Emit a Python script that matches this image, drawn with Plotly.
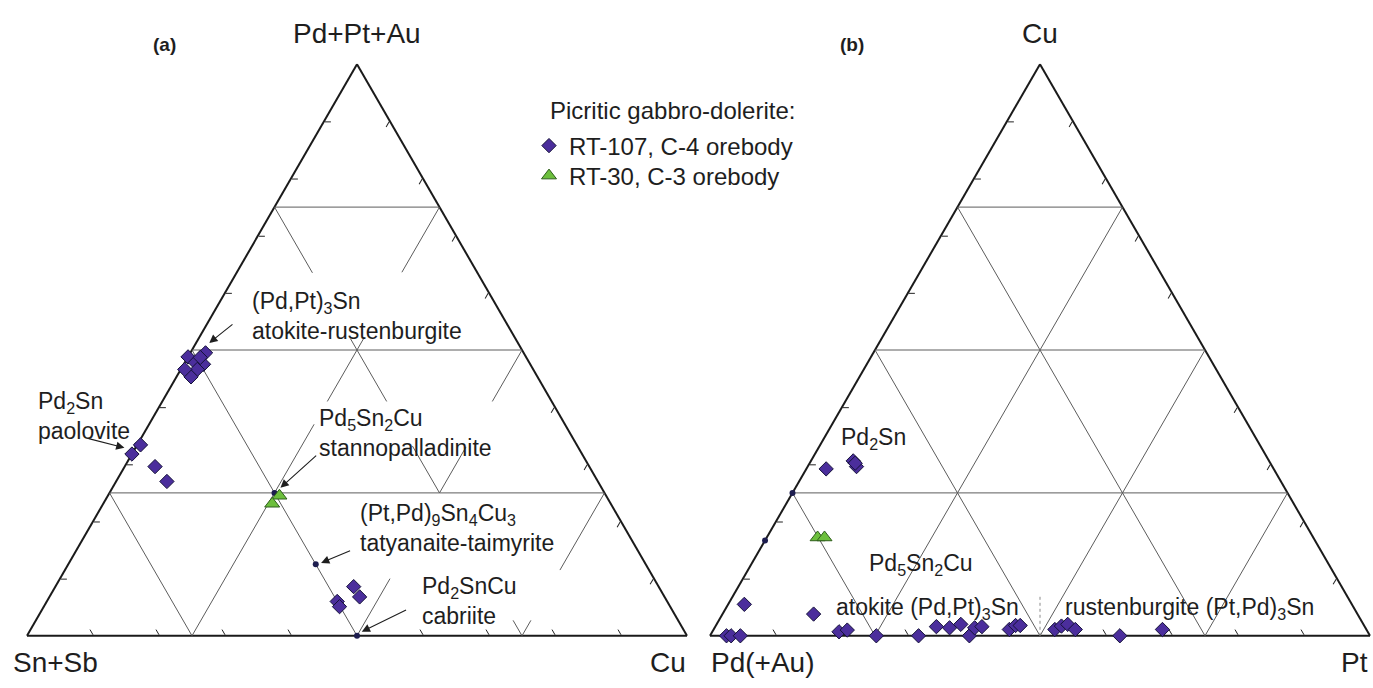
import math
import plotly.graph_objects as go

FW, FH = 1373, 688
FONT = "Liberation Sans, Arial, Helvetica, sans-serif"

# ---------------- data (atomic %) ----------------
# (a)  apex: Pd+Pt+Au, left: Sn+Sb, right: Cu
A_RT107_PGM = [74.4, 73.9, 74.75, 73.75, 73.3, 72.65, 73.3, 74.35, 66.7, 65.9, 64.8, 63.5, 54.3, 53.4, 53.0, 52.55]
A_RT107_SN = [25.6, 25.3, 24.1, 24.75, 25.45, 26.25, 26.4, 24.7, 33.05, 34.1, 32.9, 32.65, 23.1, 23.1, 25.0, 25.05]
A_RT107_CU = [0.0, 0.8, 1.15, 1.5, 1.25, 1.1, 0.3, 0.95, 0.25, 0.0, 2.3, 3.85, 22.6, 23.5, 22.0, 22.4]

A_RT30_PGM = [62.25, 61.55]
A_RT30_SN = [24.75, 25.65]
A_RT30_CU = [13.0, 12.8]

# ideal compositions: Pd2Sn, Pd5Sn2Cu, (Pt,Pd)9Sn4Cu3, Pd2SnCu
A_IDEAL_PGM = [66.67, 62.5, 56.25, 50.0]
A_IDEAL_SN = [33.33, 25.0, 25.0, 25.0]
A_IDEAL_CU = [0.0, 12.5, 18.75, 25.0]

# (b)  apex: Cu, left: Pd(+Au), right: Pt
B_RT107_CU = [29.2, 30.6, 29.6, 30.2, 5.5, 3.8, 0.0, 0.0, 0.0, 0.7, 1.0, 0.0, 0.0, 1.6,
              1.4, 2.0, 0.0, 1.4, 1.6, 1.1, 1.8, 1.8, 1.1, 1.7, 2.0, 1.1, 0.0, 1.1]
B_RT107_PD = [67.8, 63.0, 63.0, 62.9, 92.05, 82.4, 97.5, 96.8, 95.4, 80.1, 78.7, 74.8, 68.4, 64.9,
              63.0, 61.0, 60.7, 59.2, 58.0, 54.1, 52.8, 52.1, 47.2, 45.9, 44.8, 44.1, 37.9, 30.9]
B_RT107_PT = [3.0, 6.4, 7.4, 6.9, 2.45, 13.8, 2.5, 3.2, 4.6, 19.2, 20.3, 25.2, 31.6, 33.5,
              35.6, 37.0, 39.3, 39.4, 40.4, 44.8, 45.4, 46.1, 51.7, 52.4, 53.2, 54.8, 62.1, 68.0]

B_RT30_CU = [17.2, 17.2]
B_RT30_PD = [75.1, 74.05]
B_RT30_PT = [7.7, 8.75]

# ideal: (Pt,Pd)9Sn4Cu3, Pd5Sn2Cu
B_IDEAL_CU = [25.0, 16.67]
B_IDEAL_PD = [75.0, 83.33]
B_IDEAL_PT = [0.0, 0.0]

# dotted divider atokite | rustenburgite
B_DIV_CU = [0.0, 6.9]
B_DIV_PD = [50.0, 46.55]
B_DIV_PT = [50.0, 46.55]

# tick values
A_TICKS_APEX = [55, 60, 65, 70, 80, 85, 90, 95]
A_TICKS_SIDE = [5, 10, 15, 20, 30, 35, 40, 45]
B_TICKS = [10, 20, 30, 40, 60, 70, 80, 90]

# grid segments in diagram fractions: (family, constant, from, to)
A_GRID = [("a", 0.25, 0, 1), ("a", 0.5, 0, 1), ("a", 0.75, 0, 1),
          ("b", 0.75, 0.0, 0.25), ("b", 0.5, 0.0, 0.5),
          ("b", 0.25, 0.635, 0.75), ("b", 0.25, 0.41, 0.52), ("b", 0.25, 0.25, 0.332), ("b", 0.25, 0.0, 0.027),
          ("c", 0.25, 0.0, 0.37), ("c", 0.25, 0.41, 0.52), ("c", 0.25, 0.636, 0.75),
          ("c", 0.5, 0.41, 0.5), ("c", 0.5, 0.25, 0.33), ("c", 0.5, 0.0, 0.1),
          ("c", 0.75, 0.115, 0.25), ("c", 0.75, 0.0, 0.027)]
B_GRID = [("a", 0.25, 0, 1), ("a", 0.5, 0, 1), ("a", 0.75, 0, 1),
          ("b", 0.25, 0.0, 0.75), ("b", 0.5, 0.0, 0.5), ("b", 0.75, 0.0, 0.25),
          ("c", 0.25, 0.0, 0.75), ("c", 0.5, 0.0, 0.5), ("c", 0.75, 0.0, 0.25)]

# ---------------- geometry ----------------
W = 660.0
H = W * math.sqrt(3) / 2
LEFT_X0, RIGHT_X0 = 27.0, 710.0
YC = 350.0
YBOT = YC + H / 2
YDOM = [1 - YC / FH - 0.43, 1 - YC / FH + 0.43]


def grid_trace(segs, amin, span, subplot):
    A, B, C = [], [], []
    for fam, k, lo, hi in segs:
        if fam == "a":
            pts = [(k, 1 - k, 0.0), (k, 0.0, 1 - k)]
        elif fam == "b":
            pts = [(lo, k, 1 - k - lo), (hi, k, 1 - k - hi)]
        else:
            pts = [(lo, 1 - k - lo, k), (hi, 1 - k - hi, k)]
        for a, b, c in pts:
            A.append(amin + span * a)
            B.append(span * b)
            C.append(span * c)
        A.append(None); B.append(None); C.append(None)
    return go.Scatterternary(a=A, b=B, c=C, mode="lines", subplot=subplot,
                             line=dict(color="#5c5c5c", width=1), hoverinfo="skip",
                             showlegend=False)


DIA = dict(symbol="diamond", size=11, color="#4b2e9c", line=dict(color="#15123a", width=1))
TRI = dict(symbol="triangle-up", size=13, color="#6cbf3c", line=dict(color="#2f5e1c", width=1))
DOT = dict(symbol="circle", size=6, color="#1d1d4f", line=dict(width=0))

fig = go.Figure()
fig.add_trace(grid_trace(A_GRID, 50, 50, "ternary"))
fig.add_trace(grid_trace(B_GRID, 0, 100, "ternary2"))
fig.add_trace(go.Scatterternary(a=B_DIV_CU, b=B_DIV_PD, c=B_DIV_PT, mode="lines", subplot="ternary2",
                                line=dict(color="#8a8a8a", width=1, dash="dot"), hoverinfo="skip",
                                showlegend=False))

fig.add_trace(go.Scatterternary(a=A_IDEAL_PGM, b=A_IDEAL_SN, c=A_IDEAL_CU, mode="markers",
                                subplot="ternary", marker=DOT, showlegend=False, cliponaxis=False))
fig.add_trace(go.Scatterternary(a=B_IDEAL_CU, b=B_IDEAL_PD, c=B_IDEAL_PT, mode="markers",
                                subplot="ternary2", marker=DOT, showlegend=False, cliponaxis=False))

fig.add_trace(go.Scatterternary(a=A_RT107_PGM, b=A_RT107_SN, c=A_RT107_CU, mode="markers",
                                subplot="ternary", marker=DIA, name="RT-107, C-4 orebody",
                                legendgroup="rt107", legend="legend", cliponaxis=False))
fig.add_trace(go.Scatterternary(a=B_RT107_CU, b=B_RT107_PD, c=B_RT107_PT, mode="markers",
                                subplot="ternary2", marker=DIA, name="RT-107, C-4 orebody",
                                legendgroup="rt107", showlegend=False, cliponaxis=False))
fig.add_trace(go.Scatterternary(a=A_RT30_PGM, b=A_RT30_SN, c=A_RT30_CU, mode="markers",
                                subplot="ternary", marker=TRI, name="RT-30, C-3 orebody",
                                legendgroup="rt30", legend="legend2", cliponaxis=False))
fig.add_trace(go.Scatterternary(a=B_RT30_CU, b=B_RT30_PD, c=B_RT30_PT, mode="markers",
                                subplot="ternary2", marker=TRI, name="RT-30, C-3 orebody",
                                legendgroup="rt30", showlegend=False, cliponaxis=False))


def axis(amin, vals):
    return dict(min=amin, showgrid=False, showticklabels=False, ticks="inside", ticklen=6,
                tickwidth=1, tickcolor="#222", tickmode="array", tickvals=vals,
                showline=True, linecolor="#1a1a1a", linewidth=2, layer="below traces",
                title=dict(text=""))


def tern(x0, amin, va, vbc):
    return dict(domain=dict(x=[x0 / FW, (x0 + W) / FW], y=YDOM), sum=100, bgcolor="white",
                aaxis=axis(amin, va), baxis=axis(0, vbc), caxis=axis(0, vbc))


# ---------------- labels (positions as fractions of the triangle box) ----------------
def pos(x0, u, v):
    return (x0 + u * W) / FW, 1 - (YBOT - v * H) / FH


annotations = []


def label(x0, u, v, text, size=23, anchor="left", bold=False):
    x, y = pos(x0, u, v)
    t = "<b>%s</b>" % text if bold else text
    annotations.append(dict(x=x, y=y, xref="paper", yref="paper", text=t, showarrow=False,
                            xanchor=anchor, yanchor="middle", align="left",
                            font=dict(family=FONT, size=size, color="#1e1e1e")))


def arrow(x0, tip, tail):
    x, y = pos(x0, *tip)
    annotations.append(dict(x=x, y=y, xref="paper", yref="paper", text="", showarrow=True,
                            ax=(tail[0] - tip[0]) * W, ay=-(tail[1] - tip[1]) * H,
                            axref="pixel", ayref="pixel", arrowhead=2, arrowsize=1.5,
                            arrowwidth=1.1, arrowcolor="#1e1e1e", standoff=0))


L, R = LEFT_X0, RIGHT_X0
# corner titles
label(L, 0.5, 1.053, "Pd+Pt+Au", 28, "center")
label(L, 0.0439, -0.047, "Sn+Sb", 28, "center")
label(L, 0.9715, -0.047, "Cu", 28, "center")
label(R, 0.5, 1.053, "Cu", 28, "center")
label(R, 0.0796, -0.047, "Pd(+Au)", 28, "center")
label(R, 1.0, -0.047, "Pt", 28, "right")
label(L, 0.2088, 1.035, "(a)", 19, "center", bold=True)
label(R, 0.2151, 1.035, "(b)", 19, "center", bold=True)

# mineral labels (a)
label(L, 0.3377, 0.5600, "(Pd,Pt)<sub>3</sub>Sn<br>atokite-rustenburgite")
label(L, 0.0142, 0.3850, "Pd<sub>2</sub>Sn<br>paolovite")
label(L, 0.4394, 0.3548, "Pd<sub>5</sub>Sn<sub>2</sub>Cu<br>stannopalladinite")
label(L, 0.5020, 0.1891, "(Pt,Pd)<sub>9</sub>Sn<sub>4</sub>Cu<sub>3</sub><br>tatyanaite-taimyrite")
label(L, 0.5960, 0.0612, "Pd<sub>2</sub>SnCu<br>cabriite")

arrow(L, (0.2761, 0.5123), (0.3136, 0.5470))
arrow(L, (0.1476, 0.3289), (0.0912, 0.3456))
arrow(L, (0.3840, 0.2589), (0.4404, 0.3176))
arrow(L, (0.4456, 0.1275), (0.4918, 0.1498))
arrow(L, (0.5072, 0.0072), (0.5766, 0.0465))

# mineral labels (b)
label(R, 0.1951, 0.3452, "Pd<sub>2</sub>Sn")
label(R, 0.2378, 0.1249, "Pd<sub>5</sub>Sn<sub>2</sub>Cu")
label(R, 0.1879, 0.0478, "atokite (Pd,Pt)<sub>3</sub>Sn")
label(R, 0.5354, 0.0478, "rustenburgite (Pt,Pd)<sub>3</sub>Sn")

# legend heading
annotations.append(dict(x=548 / FW, y=1 - 111 / FH, xref="paper", yref="paper",
                        text="Picritic gabbro-dolerite:", showarrow=False, xanchor="left",
                        yanchor="middle", font=dict(family=FONT, size=24, color="#1e1e1e")))

LEG = dict(x=529 / FW, xanchor="left", yanchor="middle", bgcolor="rgba(0,0,0,0)",
           font=dict(family=FONT, size=24, color="#1e1e1e"), borderwidth=0)

fig.update_layout(
    width=FW, height=FH, autosize=False,
    margin=dict(l=0, r=0, t=0, b=0),
    paper_bgcolor="white", plot_bgcolor="white",
    font=dict(family=FONT, color="#1e1e1e"),
    ternary=tern(LEFT_X0, 50, A_TICKS_APEX, A_TICKS_SIDE),
    ternary2=tern(RIGHT_X0, 0, B_TICKS, B_TICKS),
    legend=dict(LEG, y=1 - 146 / FH),
    legend2=dict(LEG, y=1 - 176 / FH),
    annotations=annotations,
    showlegend=True,
)

fig.write_html("out.html", config={"displayModeBar": False},
               post_script="document.body.style.margin='0';")
